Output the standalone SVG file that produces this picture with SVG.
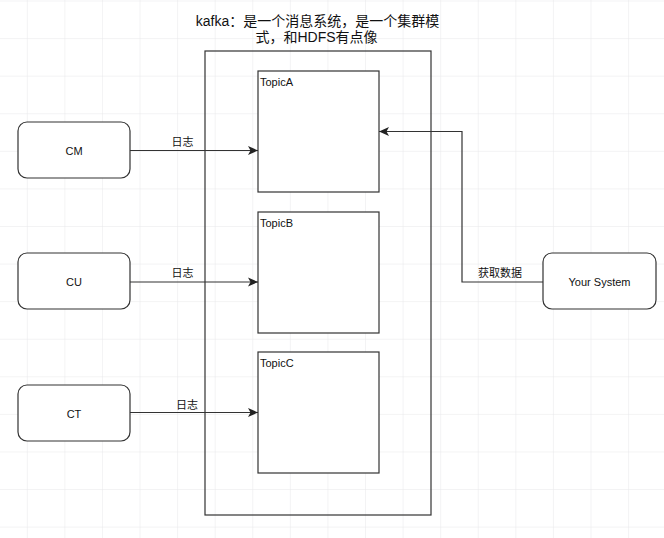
<svg xmlns="http://www.w3.org/2000/svg" width="664" height="538" viewBox="0 0 664 538">
<defs>
<pattern id="grid" patternUnits="userSpaceOnUse" x="26.8" y="0.5" width="37.58" height="37.58">
<path d="M0,0 H37.58 M0,0 V37.58" fill="none" stroke="#e8e8ea" stroke-width="1"/>
</pattern>
<marker id="arr" markerUnits="userSpaceOnUse" markerWidth="12" markerHeight="10" refX="10" refY="5" orient="auto">
<path d="M0,0.5 L10,5 L0,9.5 L2.5,5 Z" fill="#222"/>
</marker>
<style>
.box{fill:#fff;stroke:#333;stroke-width:1.2}
.cont{fill:none;stroke:#333;stroke-width:1.2}
.lbl{font-family:"Liberation Sans","Noto Sans CJK SC",sans-serif;font-size:11px;fill:#111}
.ttl{font-family:"Liberation Sans","Noto Sans CJK SC",sans-serif;font-size:14px;fill:#111}
.edge{fill:none;stroke:#333;stroke-width:1.2;marker-end:url(#arr)}
</style>
</defs>
<rect width="664" height="538" fill="#fff"/>
<rect width="664" height="538" fill="url(#grid)"/>

<g id="kafka">
<rect class="cont" x="205" y="51" width="226" height="464"/>
<text class="ttl" text-anchor="middle"><tspan x="317.5" y="26">kafka：是一个消息系统，是一个集群模</tspan><tspan x="316.5" y="42">式，和HDFS有点像</tspan></text>
</g>

<g id="topicA">
<rect class="box" x="258" y="71" width="121" height="121"/>
<text class="lbl" x="260" y="86">TopicA</text>
</g>
<g id="topicB">
<rect class="box" x="258" y="212" width="121" height="121"/>
<text class="lbl" x="260" y="227">TopicB</text>
</g>
<g id="topicC">
<rect class="box" x="258" y="352" width="121" height="121"/>
<text class="lbl" x="260" y="367">TopicC</text>
</g>

<g id="cm">
<rect class="box" x="18" y="122" width="112" height="56" rx="9"/>
<text class="lbl" x="74" y="155" text-anchor="middle">CM</text>
</g>
<g id="cu">
<rect class="box" x="18" y="253" width="112" height="56" rx="9"/>
<text class="lbl" x="74" y="286" text-anchor="middle">CU</text>
</g>
<g id="ct">
<rect class="box" x="18" y="385" width="112" height="56" rx="9"/>
<text class="lbl" x="74" y="418" text-anchor="middle">CT</text>
</g>
<g id="yoursystem">
<rect class="box" x="543" y="253" width="113" height="56" rx="9"/>
<text class="lbl" x="599.5" y="286" text-anchor="middle">Your System</text>
</g>

<g id="connectors">
<path class="edge" d="M130,150.5 H258"/>
<text class="lbl" x="182.5" y="146" text-anchor="middle">日志</text>
<path class="edge" d="M130,282 H258"/>
<text class="lbl" x="182.5" y="277" text-anchor="middle">日志</text>
<path class="edge" d="M130,412.5 H258"/>
<text class="lbl" x="187" y="409" text-anchor="middle">日志</text>
<path class="edge" d="M543,282 H462 V131.5 H379"/>
<text class="lbl" x="500" y="277" text-anchor="middle">获取数据</text>
</g>
</svg>
